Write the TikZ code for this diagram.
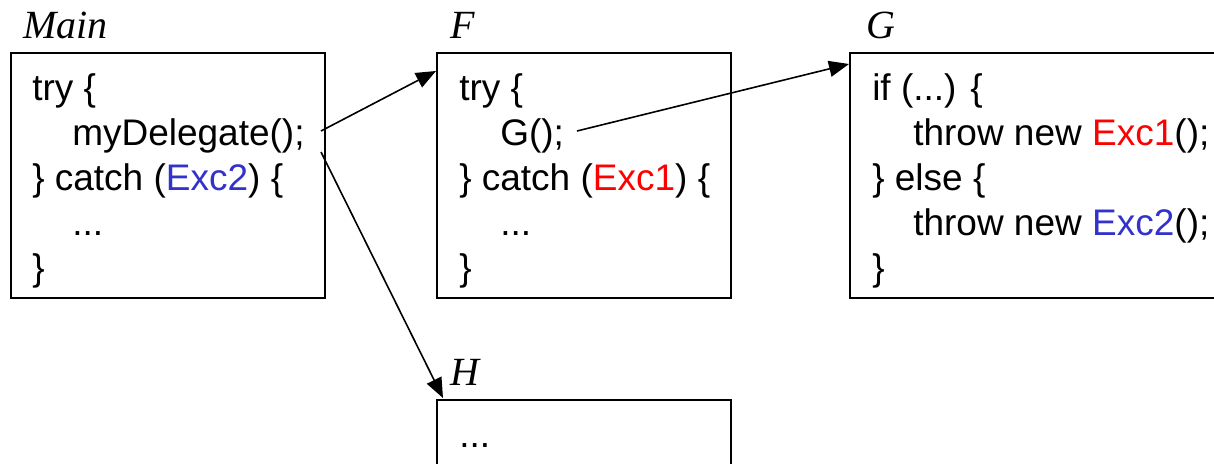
\documentclass[tikz,border=0pt]{standalone}
\usepackage{fontspec}
\setmainfont{Liberation Sans}
\newfontfamily\labelfont{Liberation Serif}
\usetikzlibrary{arrows.meta,calc}
\definecolor{excred}{RGB}{255,0,0}
\definecolor{excblue}{RGB}{51,51,204}
\begin{document}
\begin{tikzpicture}[x=0.75pt,y=-0.75pt,
 box/.style={draw, line width=1.5pt, rectangle, anchor=north west, inner sep=0pt, outer sep=0pt},
 code/.style={anchor=base west, inner sep=0pt, font=\fontsize{27.75}{33}\selectfont},
 title/.style={anchor=base west, inner sep=0pt, font=\fontsize{30}{36}\selectfont\labelfont\itshape},
 call/.style={line width=1.2pt, -{Triangle[length=15pt,width=12pt]}}]
\useasboundingbox (0,0) rectangle (1214,464);
\clip (0,0) rectangle (1214,464);
% boxes
\node[box, minimum width=235.5pt, minimum height=183.75pt] (main) at (11,53) {};
\node[box, minimum width=220.5pt, minimum height=183.75pt] (F) at (437,53) {};
\node[box, minimum width=300pt, minimum height=183.75pt] (G) at (850,53) {};
\node[box, minimum width=220.5pt, minimum height=90pt] (H) at (437,400) {};
% titles
\node[title] (tmain) at (23,38) {Main};
\node[title] (tF) at (450,38) {F};
\node[title] (tG) at (866,38) {G};
\node[title] (tH) at (450,385) {H};
% Main code
\node[code] (m1) at (32,100) {try \{};
\node[code] (m2) at (72,145) {myDelegate();};
\node[code] (m3) at (32,190) {\} catch (\textcolor{excblue}{Exc2}) \{};
\node[code] (m4) at (72,235) {...};
\node[code] (m5) at (32,280) {\}};
% F code
\node[code] (f1) at (459,100) {try \{};
\node[code] (f2) at (500,145) {G();};
\node[code] (f3) at (459,190) {\} catch (\textcolor{excred}{Exc1}) \{};
\node[code] (f4) at (500,235) {...};
\node[code] (f5) at (459,280) {\}};
% G code
\node[code] (g1) at (872,100) {if (...) \{};
\node[code] (g2) at (913,145) {throw new \textcolor{excred}{Exc1}();};
\node[code] (g3) at (872,190) {\} else \{};
\node[code] (g4) at (913,235) {throw new \textcolor{excblue}{Exc2}();};
\node[code] (g5) at (872,280) {\}};
% H code
\node[code] (h1) at (459,447) {...};
% calls
\coordinate (s1) at (321,131);
\coordinate (s2) at (321,152);
\coordinate (s3) at (577,131);
\draw[call] (s1) -- ($(F.north west)+(-1,18)$);
\draw[call] (s2) -- ($(H.north west)+(6,-2)$);
\draw[call] (s3) -- ($(G.north west)+(-1,11)$);
\end{tikzpicture}
\end{document}
